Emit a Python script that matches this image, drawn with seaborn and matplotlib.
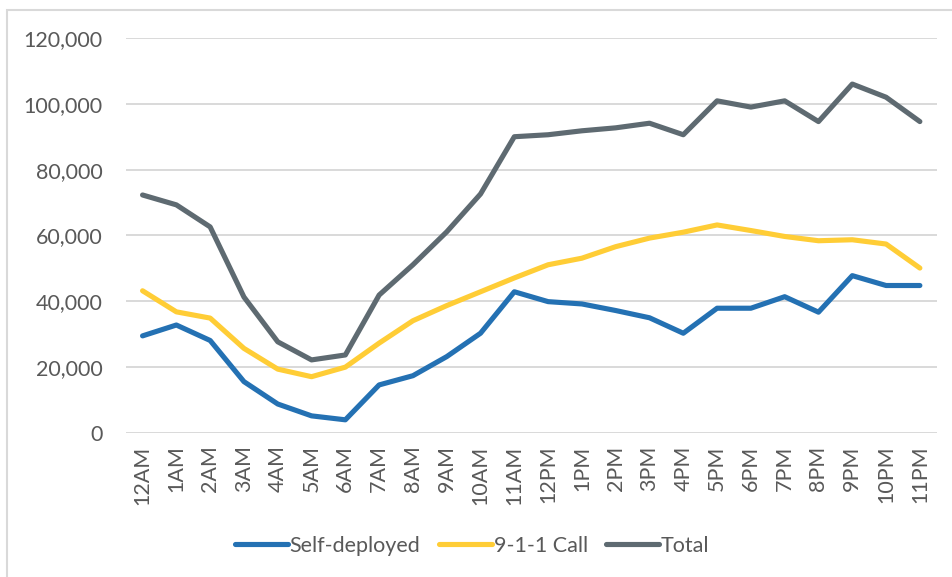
import pandas as pd
import seaborn as sns
import matplotlib.pyplot as plt
from matplotlib.patches import Rectangle

horas = ["12AM", "1AM", "2AM", "3AM", "4AM", "5AM", "6AM", "7AM", "8AM", "9AM", "10AM", "11AM",
         "12PM", "1PM", "2PM", "3PM", "4PM", "5PM", "6PM", "7PM", "8PM", "9PM", "10PM", "11PM"]
self_deployed = [29500, 32800, 28100, 15600, 8800, 5200, 4000, 14600, 17400, 23200, 30300, 42900,
                 39900, 39200, 37200, 35000, 30300, 37900, 37900, 41400, 36700, 47800, 44800, 44800]
chamada_911 = [43200, 36800, 34900, 25700, 19400, 17100, 20000, 27300, 34100, 38700, 42900, 47100,
               51100, 53100, 56600, 59200, 61000, 63200, 61500, 59700, 58400, 58700, 57400, 50100]
total = [72300, 69300, 62600, 41300, 27700, 22200, 23700, 41900, 51100, 61100, 72600, 90000,
         90600, 91800, 92700, 94100, 90600, 100900, 99000, 100900, 94600, 106000, 102000, 94600]
series = ["Self-deployed", "9-1-1 Call", "Total"]
cores = ["#2471b3", "#ffcd36", "#5e6a71"]

tabela = pd.DataFrame({"hora": range(len(horas)),
                       "Self-deployed": self_deployed,
                       "9-1-1 Call": chamada_911,
                       "Total": total})
tabela = tabela.melt(id_vars="hora", var_name="serie", value_name="valor")

sns.set_style("white")
plt.rcParams["font.family"] = ["Lato", "DejaVu Sans"]

fig = plt.figure(figsize=(9.52, 5.77), dpi=100)
ax = fig.add_axes([0.132, 0.2496, 0.852, 0.6846])

grafico = sns.lineplot(data=tabela, x="hora", y="valor", hue="serie", hue_order=series,
                       palette=cores, linewidth=3.7, ax=ax, legend=True)
for linha in ax.lines:
    linha.set_solid_capstyle("round")
    linha.set_solid_joinstyle("round")

ax.set_xlim(-0.5, len(horas) - 0.5)
ax.set_ylim(0, 120000)
ax.set_yticks(range(0, 120001, 20000))
ax.set_yticklabels([f"{v:,}" for v in range(0, 120001, 20000)], fontsize=15.5, color="#595959")
ax.set_xticks(range(len(horas)))
ax.set_xticklabels(horas, rotation=90, fontsize=15.5, color="#595959")
ax.tick_params(axis="x", length=0, pad=9)
ax.tick_params(axis="y", length=0, pad=16.5)
ax.grid(axis="y", color="#d9d9d9", linewidth=1.4)
ax.set_axisbelow(True)
for lado in ax.spines.values():
    lado.set_visible(False)
ax.set_xlabel("")
ax.set_ylabel("")

handles, labels = ax.get_legend_handles_labels()
ax.legend(handles, labels, loc="center", bbox_to_anchor=(0.496, 0.054),
          bbox_transform=fig.transFigure, ncol=3, frameon=False, fontsize=15.5,
          handlelength=2.45, handletextpad=0.1, columnspacing=0.85, labelcolor="#595959")

fig.patches.append(Rectangle((7 / 952, -0.01), 2.0, 1 - 10 / 577 + 0.01, transform=fig.transFigure,
                             fill=False, edgecolor="#d9d9d9", linewidth=1.5))

fig.savefig("out.png", dpi=100)
